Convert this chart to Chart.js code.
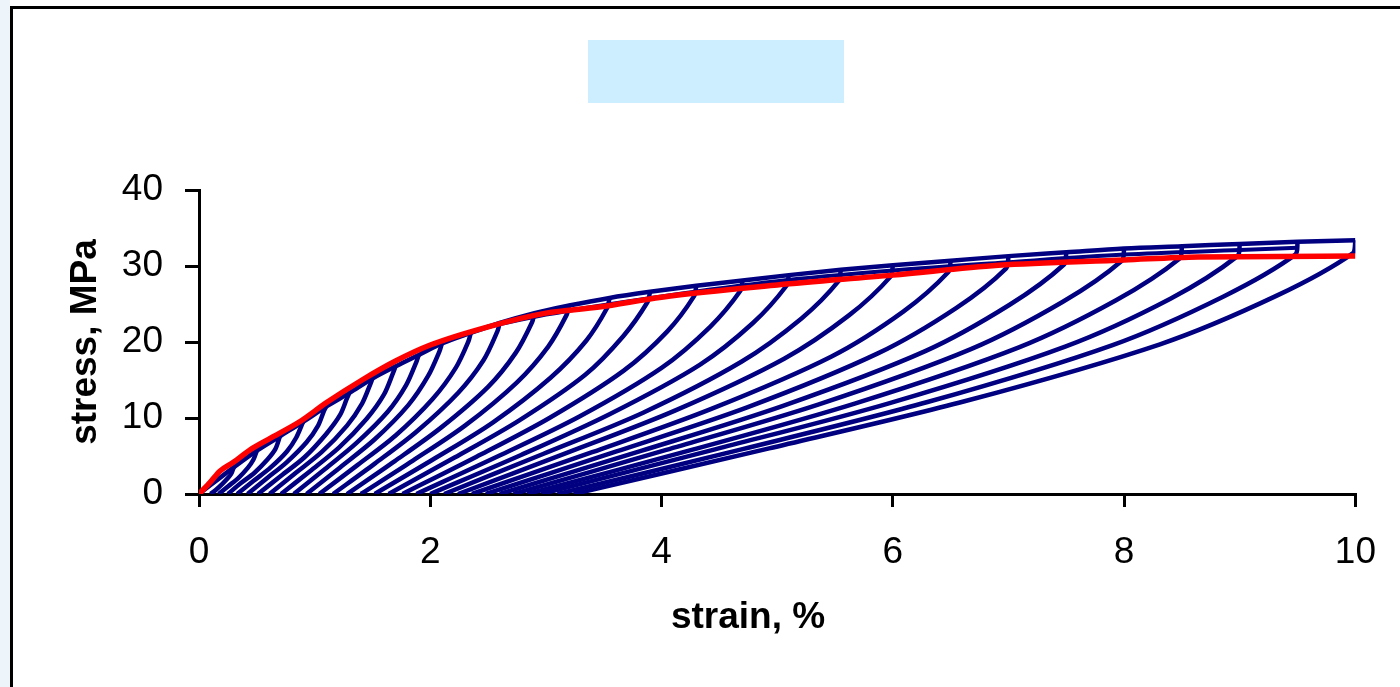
<!DOCTYPE html>
<html>
<head>
<meta charset="utf-8">
<script src="https://cdn.jsdelivr.net/npm/chart.js@4.4.0/dist/chart.umd.min.js"></script>
<style>
  html, body { margin: 0; padding: 0; background: #fff; overflow: hidden; }
  #wrap { position: relative; width: 1400px; height: 687px; }
  #strip { position: absolute; left: 0; top: 0; width: 10px; height: 687px; background: #eef5fa; }
  #frame { position: absolute; left: 10px; top: 6px; width: 1400px; height: 700px; border-left: 3px solid #000; border-top: 3px solid #000; }
  #titlebox { position: absolute; left: 588px; top: 40px; width: 256px; height: 63px; background: #cceeff; }
  canvas { position: absolute; left: 0; top: 0; }
</style>
</head>
<body>
<div id="wrap">
  <div id="strip"></div>
  <div id="frame"></div>
  <div id="titlebox"></div>
  <canvas id="stressChart" width="1400" height="687"></canvas>
</div>
<script>
// axis ticks
const strainTicks = [0, 2, 4, 6, 8, 10];
const stressTicks = [0, 10, 20, 30, 40];

// red envelope curve (strain %, stress MPa)
const envelopeStrain = [0, 0.1, 0.18, 0.3, 0.44, 0.6, 0.87, 1.1, 1.41, 1.7, 2, 2.5, 3, 3.46, 4, 5, 6, 6.91, 8, 8.64, 10];
const envelopeStress = [0, 1.6, 3.0, 4.2, 5.8, 7.2, 9.5, 12, 15, 17.5, 19.6, 22, 23.8, 24.6, 25.9, 27.5, 28.8, 30.1, 30.8, 31.2, 31.3];

// blue top line through the loop peaks
const peakStrain = [0, 0.3, 0.5, 0.7, 0.9, 1.1, 1.3, 1.5, 1.7, 1.9, 2.1, 2.35, 2.6, 2.9, 3.2, 3.55, 3.9, 4.3, 4.7, 5.1, 5.55, 6, 6.5, 7, 7.5, 8, 8.5, 9, 9.5, 10];
const peakStress = [0, 3.5, 5.7, 7.6, 9.5, 11.5, 13.3, 15.2, 16.8, 18.3, 19.8, 21.2, 22.5, 23.8, 24.8, 25.8, 26.6, 27.4, 28.1, 28.8, 29.5, 30.1, 30.7, 31.3, 31.8, 32.3, 32.6, 32.9, 33.2, 33.4];

// reloading branches rejoining just under the peaks
const reloadStrain = [2.5, 3, 4, 5, 6, 7, 8, 9, 9.5];
const reloadStress = [22.0, 23.6, 26.0, 28.0, 29.4, 30.5, 31.5, 32.1, 32.4];

// unloading branches, residual strain -> peak
const loops = [
  [[0.10,0],[0.15,0.6],[0.20,1.3],[0.25,2.1],[0.28,2.7],[0.30,3.5]],
  [[0.17,0],[0.25,1.0],[0.34,2.1],[0.42,3.4],[0.47,4.5],[0.50,5.7]],
  [[0.25,0],[0.36,1.4],[0.48,2.8],[0.59,4.5],[0.66,5.9],[0.70,7.6]],
  [[0.33,0],[0.47,1.7],[0.62,3.5],[0.76,5.6],[0.84,7.4],[0.90,9.5]],
  [[0.42,0],[0.59,2.1],[0.76,4.2],[0.93,6.8],[1.03,9.0],[1.08,10.9],[1.10,11.5]],
  [[0.51,0],[0.71,2.4],[0.91,4.8],[1.10,7.9],[1.22,10.4],[1.28,12.6],[1.30,13.3]],
  [[0.61,0],[0.83,2.7],[1.06,5.5],[1.28,9.0],[1.41,11.9],[1.48,14.4],[1.50,15.2]],
  [[0.71,0],[0.96,3.0],[1.21,6.1],[1.45,9.9],[1.60,13.1],[1.68,16.0],[1.70,16.8]],
  [[0.82,0],[1.09,3.3],[1.36,6.7],[1.63,10.8],[1.79,14.3],[1.88,17.4],[1.90,18.3]],
  [[0.93,0],[1.22,3.5],[1.52,7.2],[1.81,11.7],[1.98,15.5],[2.08,18.8],[2.10,19.8]],
  [[1.04,0],[1.37,3.8],[1.70,7.7],[2.02,12.5],[2.22,16.6],[2.33,20.1],[2.35,21.2]],
  [[1.16,0],[1.52,4.0],[1.88,8.2],[2.24,13.3],[2.46,17.6],[2.58,21.4],[2.60,22.5]],
  [[1.28,0],[1.69,4.3],[2.09,8.7],[2.50,14.1],[2.74,18.6],[2.88,22.6],[2.90,23.8]],
  [[1.40,0],[1.85,4.4],[2.30,9.0],[2.75,14.7],[3.02,19.4],[3.18,23.6],[3.20,24.8]],
  [[1.52,0],[2.03,4.6],[2.54,9.4],[3.04,15.3],[3.35,20.2],[3.53,24.5],[3.55,25.8]],
  [[1.64,0],[2.21,4.8],[2.77,9.7],[3.34,15.7],[3.67,20.8],[3.88,25.3],[3.90,26.6]],
  [[1.76,0],[2.40,4.9],[3.03,10.0],[3.67,16.2],[4.05,21.4],[4.28,26.0],[4.30,27.4]],
  [[1.88,0],[2.59,5.0],[3.29,10.2],[4.00,16.6],[4.42,22.0],[4.68,26.7],[4.70,28.1]],
  [[2.00,0],[2.78,5.1],[3.55,10.5],[4.33,17.0],[4.79,22.5],[5.08,27.4],[5.10,28.8]],
  [[2.12,0],[2.98,5.3],[3.84,10.7],[4.69,17.4],[5.21,23.1],[5.53,28.0],[5.55,29.5]],
  [[2.24,0],[3.18,5.4],[4.12,11.0],[5.06,17.8],[5.62,23.5],[5.98,28.6],[6.00,30.1]],
  [[2.36,0],[3.40,5.5],[4.43,11.2],[5.47,18.1],[6.09,24.0],[6.48,29.2],[6.50,30.7]],
  [[2.48,0],[3.61,5.6],[4.74,11.4],[5.87,18.5],[6.55,24.5],[6.98,29.7],[7.00,31.3]],
  [[2.60,0],[3.83,5.7],[5.05,11.6],[6.28,18.8],[7.01,24.9],[7.48,30.2],[7.50,31.8]],
  [[2.72,0],[4.04,5.8],[5.36,11.8],[6.68,19.1],[7.47,25.3],[7.98,30.7],[8.00,32.3]],
  [[2.84,0],[4.26,5.8],[5.67,11.9],[7.09,19.3],[7.93,25.5],[8.48,31.0],[8.50,32.6]],
  [[2.96,0],[4.47,5.9],[5.98,12.0],[7.49,19.4],[8.40,25.7],[8.98,31.3],[9.00,32.9]],
  [[3.10,0],[4.70,5.9],[6.30,12.1],[7.90,19.6],[8.86,26.0],[9.48,31.5],[9.50,33.2]],
  [[3.24,0],[4.93,6.0],[6.62,12.2],[8.31,19.7],[9.32,26.1],[9.98,31.7],[10.00,33.4]]
];

const BLUE = '#000080';
const RED = '#ff0000';
const FONT = "'Liberation Sans', Arial, sans-serif";

function toPoints(xs, ys) {
    return xs.map(function(x, i) { return { x: x, y: ys[i] }; });
}

// Chart.js paints dataset 0 last, so the red envelope goes first to sit on top
const datasets = [{
    data: toPoints(envelopeStrain, envelopeStress),
    borderColor: RED,
    borderWidth: 5.5,
    showLine: true,
    pointRadius: 0,
    cubicInterpolationMode: 'monotone'
}];

loops.forEach(function(loop) {
    datasets.push({
        data: loop.map(function(p) { return { x: p[0], y: p[1] }; }),
        borderColor: BLUE,
        borderWidth: 4.5,
        showLine: true,
        pointRadius: 0,
        tension: 0.3
    });
});

datasets.push({
    data: toPoints(peakStrain, peakStress),
    borderColor: BLUE,
    borderWidth: 4.5,
    showLine: true,
    pointRadius: 0,
    cubicInterpolationMode: 'monotone'
});

datasets.push({
    data: toPoints(reloadStrain, reloadStress),
    borderColor: BLUE,
    borderWidth: 4,
    showLine: true,
    pointRadius: 0,
    cubicInterpolationMode: 'monotone'
});

// x axis title sits left of the axis centre in the original, so draw it here
const xTitlePlugin = {
    id: 'xTitle',
    afterDraw: function(chart) {
        const c = chart.ctx;
        c.save();
        c.font = "bold 37px " + FONT;
        c.fillStyle = '#000';
        c.textAlign = 'center';
        c.textBaseline = 'middle';
        c.fillText('strain, %', 748, 618);
        c.restore();
    }
};

const ctx = document.getElementById('stressChart').getContext('2d');
const stressChart = new Chart(ctx, {
    type: 'scatter',
    data: { datasets: datasets },
    plugins: [xTitlePlugin],
    options: {
        responsive: false,
        animation: false,
        layout: { padding: { left: 0, right: 42, top: 190, bottom: 0 } },
        plugins: { legend: { display: false }, tooltip: { enabled: false } },
        scales: {
            x: {
                type: 'linear',
                min: 0,
                max: 10,
                afterBuildTicks: function(scale) {
                    scale.ticks = strainTicks.map(function(v) { return { value: v }; });
                },
                afterFit: function(scale) { scale.height = 193; },
                ticks: { color: '#000', font: { family: FONT, size: 37 }, padding: 24, maxRotation: 0 },
                grid: { drawOnChartArea: false, tickLength: 13, lineWidth: 3, color: '#000' },
                border: { color: '#000', width: 3 }
            },
            y: {
                type: 'linear',
                min: 0,
                max: 40,
                afterBuildTicks: function(scale) {
                    scale.ticks = stressTicks.map(function(v) { return { value: v }; });
                },
                afterFit: function(scale) { scale.width = 199; },
                ticks: { color: '#000', font: { family: FONT, size: 37 }, padding: 22 },
                grid: { drawOnChartArea: false, tickLength: 14, lineWidth: 3, color: '#000' },
                border: { color: '#000', width: 3 },
                title: {
                    display: true,
                    text: 'stress, MPa',
                    color: '#000',
                    font: { family: FONT, size: 37, weight: 'bold' },
                    padding: { top: 64, bottom: 0 }
                }
            }
        }
    }
});
</script>
</body>
</html>
